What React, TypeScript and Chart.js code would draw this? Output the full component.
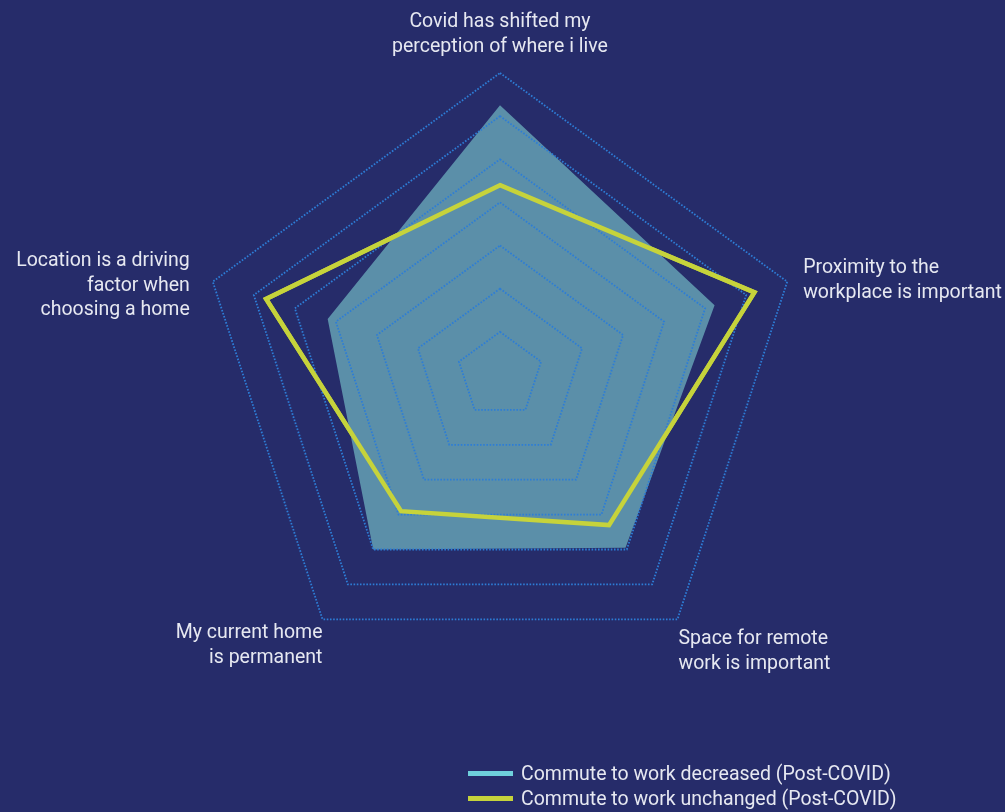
import React, { useEffect, useRef } from "react";
import { Chart, registerables } from "chart.js";

Chart.register(...registerables);

// ---- data ----
const categories: string[][] = [
  ["Covid has shifted my", "perception of where i live"],
  ["Proximity to the", "workplace is important"],
  ["Space for remote", "work is important"],
  ["My current home", "is permanent"],
  ["Location is a driving", "factor when", "choosing a home"],
];
const seriesNames = [
  "Commute to work decreased (Post-COVID)",
  "Commute to work unchanged (Post-COVID)",
];
const decreasedValues = [62.5, 52.3, 49.5, 50, 42];
const unchangedValues = [44, 62, 43, 39, 57];
const scaleMin = 0;
const scaleMax = 70;
const scaleStep = 10;

// ---- styles ----
const BG = "#262c6a";
const GRID = "#2d7dd6";
const FILL = "#5b8fa9";
const YELLOW = "#c6d33b";
const CYAN = "#6fd0dc";
const TEXT = "#e6e8f1";
const FONT_SIZE = 19.5;
const LINE_H = 24.5;
const FONT = "Roboto, 'Noto Sans', sans-serif";
const legendColors = [CYAN, YELLOW];

type Layout = { align: CanvasTextAlign; dx: number; anchor: "top" | "middle" | "bottom"; dy: number };
const LABEL_LAYOUT: Layout[] = [
  { align: "center", dx: 0, anchor: "bottom", dy: -14 },
  { align: "left", dx: 16, anchor: "middle", dy: -1 },
  { align: "left", dx: 1, anchor: "top", dy: 8 },
  { align: "right", dx: 0, anchor: "top", dy: 2 },
  { align: "right", dx: -23, anchor: "middle", dy: 4 },
];

const overlayPlugin = {
  id: "overlay",
  afterDraw(chart: any) {
    const ctx = chart.ctx as CanvasRenderingContext2D;
    // keep the line series above the dotted grid
    const meta = chart.getDatasetMeta(1);
    if (meta && meta.controller) {
      ctx.save();
      meta.controller.draw();
      ctx.restore();
    }
    const scale = chart.scales.r;
    ctx.save();
    ctx.font = `${FONT_SIZE}px ${FONT}`;
    ctx.fillStyle = TEXT;
    ctx.textBaseline = "middle";
    categories.forEach((lines, i) => {
      const p = scale.getPointPosition(i, scale.drawingArea);
      const L = LABEL_LAYOUT[i];
      const blockH = lines.length * LINE_H;
      let top: number;
      if (L.anchor === "bottom") top = p.y + L.dy - blockH;
      else if (L.anchor === "top") top = p.y + L.dy;
      else top = p.y + L.dy - blockH / 2;
      ctx.textAlign = L.align;
      lines.forEach((line, j) => {
        ctx.fillText(line, p.x + L.dx, top + LINE_H * (j + 0.5));
      });
    });
    ctx.restore();
  },
};

export default function App() {
  const canvasRef = useRef<HTMLCanvasElement | null>(null);

  useEffect(() => {
    let chart: Chart | null = null;
    let cancelled = false;
    const make = () => {
      if (cancelled || !canvasRef.current) return;
      chart = new Chart(canvasRef.current, {
        type: "radar",
        data: {
          labels: categories.map((l) => l.join(" ")),
          datasets: [
            {
              label: seriesNames[0],
              data: decreasedValues,
              backgroundColor: FILL,
              borderColor: "rgba(0,0,0,0)",
              borderWidth: 0,
              fill: true,
              pointRadius: 0,
            },
            {
              label: seriesNames[1],
              data: unchangedValues,
              backgroundColor: "rgba(0,0,0,0)",
              borderColor: YELLOW,
              borderWidth: 4.5,
              borderJoinStyle: "miter",
              fill: false,
              pointRadius: 0,
            },
          ],
        },
        options: {
          responsive: false,
          animation: false,
          devicePixelRatio: 1,
          layout: { padding: { top: 73, bottom: 134, left: 0, right: 5 } },
          plugins: { legend: { display: false }, tooltip: { enabled: false } },
          elements: { line: { tension: 0 } },
          scales: {
            r: {
              min: scaleMin,
              max: scaleMax,
              ticks: { display: false, stepSize: scaleStep },
              grid: { color: GRID, lineWidth: 1.8, z: 1 } as any,
              border: { dash: [1.6, 1.6] } as any,
              angleLines: { display: false },
              pointLabels: { display: false },
            },
          },
        },
        plugins: [overlayPlugin],
      } as any);
    };
    const fonts = (document as any).fonts;
    if (fonts && fonts.load) {
      fonts.load(`${FONT_SIZE}px Roboto`).then(make, make);
    } else make();
    return () => {
      cancelled = true;
      if (chart) chart.destroy();
    };
  }, []);

  return (
    <div style={{ position: "fixed", left: 0, top: 0, width: 1005, height: 812, background: BG, overflow: "hidden" }}>
      <canvas ref={canvasRef} width={1005} height={812} style={{ position: "absolute", left: 0, top: 0, width: 1005, height: 812 }} />
      <div style={{ position: "absolute", left: 468, top: 761, fontFamily: FONT, fontSize: FONT_SIZE, color: TEXT }}>
        {seriesNames.map((name, i) => (
          <div key={name} style={{ display: "flex", alignItems: "center", height: 25, whiteSpace: "nowrap" }}>
            <span style={{ display: "inline-block", width: 45, height: 5, background: legendColors[i], marginRight: 8 }} />
            <span>{name}</span>
          </div>
        ))}
      </div>
    </div>
  );
}
